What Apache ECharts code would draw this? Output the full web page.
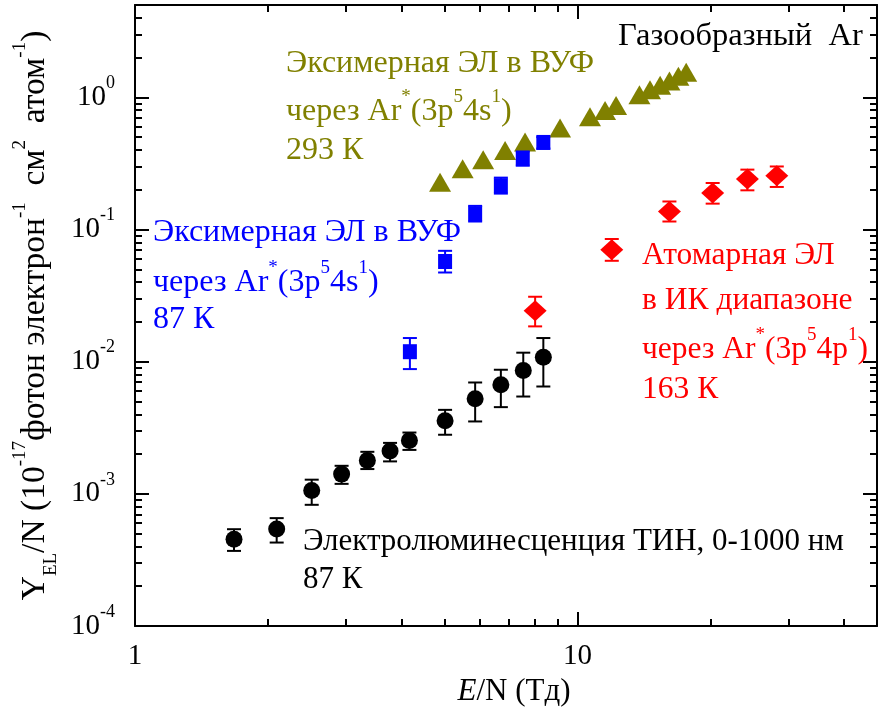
<!DOCTYPE html>
<html><head><meta charset="utf-8">
<script src="https://cdn.jsdelivr.net/npm/echarts@6/dist/echarts.min.js"></script>
<style>html,body{margin:0;padding:0;background:#fff}#c{width:886px;height:715px}</style>
</head><body><div id="c"></div>
<script>
// ---- data ----
const tinX  = [1.674, 2.09, 2.508, 2.93, 3.35, 3.77, 4.17, 5.02, 5.87, 6.71, 7.54, 8.37];
const tinY  = [4.54e-4, 5.43e-4, 1.06e-3, 1.41e-3, 1.79e-3, 2.11e-3, 2.53e-3, 3.57e-3, 5.24e-3, 6.68e-3, 8.58e-3, 1.08e-2];
const tinLo = [3.7e-4, 4.28e-4, 8.26e-4, 1.19e-3, 1.54e-3, 1.76e-3, 2.15e-3, 2.8e-3, 3.53e-3, 4.53e-3, 5.45e-3, 6.49e-3];
const tinHi = [5.4e-4, 6.55e-4, 1.28e-3, 1.63e-3, 2.08e-3, 2.43e-3, 2.91e-3, 4.32e-3, 6.96e-3, 8.69e-3, 1.17e-2, 1.51e-2];

const vuf87X  = [4.18, 5.02, 5.87, 6.71, 7.52, 8.37];
const vuf87Y  = [0.0119, 0.0573, 0.1317, 0.2147, 0.348, 0.456];
const vuf87Lo = [0.00879, 0.0473, 0.115, 0.187, 0.304, 0.41];
const vuf87Hi = [0.0151, 0.069, 0.151, 0.247, 0.39, 0.50];

const vuf293X = [4.89, 5.50, 6.12, 6.86, 7.61, 9.13, 10.67, 11.54, 12.22, 13.8, 14.58, 15.37, 16.13, 16.9, 17.6];
const vuf293Y = [0.228, 0.288, 0.3375, 0.396, 0.46, 0.587, 0.714, 0.796, 0.868, 1.048, 1.144, 1.237, 1.333, 1.442, 1.551];

const irX  = [8.02, 11.95, 16.13, 20.2, 24.2, 28.2];
const irY  = [0.0243, 0.0703, 0.137, 0.189, 0.241, 0.2555];
const irLo = [0.0185, 0.058, 0.115, 0.157, 0.198, 0.21];
const irHi = [0.031, 0.0848, 0.163, 0.225, 0.284, 0.30];

const xMajorTicks = [1, 10];
const xMinorTicks = [2, 3, 4, 5, 6, 7, 8, 9, 20, 30, 40];
const yMajorTicks = [1e-4, 1e-3, 1e-2, 1e-1, 1];
const yMinorTicks = [2e-4,3e-4,4e-4,5e-4,6e-4,7e-4,8e-4,9e-4,
                     2e-3,3e-3,4e-3,5e-3,6e-3,7e-3,8e-3,9e-3,
                     2e-2,3e-2,4e-2,5e-2,6e-2,7e-2,8e-2,9e-2,
                     0.2,0.3,0.4,0.5,0.6,0.7,0.8,0.9,2,3,4];

// ---- styling ----
const FONT = "'Liberation Serif','Times New Roman',serif";
const OLIVE = '#808000', BLUE = '#0000ff', RED = '#ff0000', BLACK = '#000000';
const XMIN = 1, XMAX = 47.5, YMIN = 1e-4, YMAX = 5;

function zip(a, b) { return a.map((v, i) => [v, b[i]]); }
function zip3(a, b, c) { return a.map((v, i) => [v, b[i], c[i]]); }

function xAx(pos, ticks, len, showLine, labels) {
  return {
    type: 'log', logBase: 10, min: XMIN, max: XMAX, position: pos,
    axisLine: { show: showLine, onZero: false, lineStyle: { color: BLACK, width: 2 } },
    axisTick: { show: true, inside: true, length: len, customValues: ticks, lineStyle: { color: BLACK, width: 2 } },
    axisLabel: labels ? { show: true, customValues: ticks, margin: 16, fontFamily: FONT, fontSize: 29, color: BLACK,
                          formatter: v => String(Math.round(v)) } : { show: false },
    splitLine: { show: false }, minorTick: { show: false }
  };
}
function yAx(pos, ticks, len, showLine, labels) {
  return {
    type: 'log', logBase: 10, min: YMIN, max: YMAX, position: pos,
    axisLine: { show: showLine, onZero: false, lineStyle: { color: BLACK, width: 2 } },
    axisTick: { show: true, inside: true, length: len, customValues: ticks, lineStyle: { color: BLACK, width: 2 } },
    axisLabel: labels ? {
      show: true, customValues: ticks, margin: 20,
      formatter: v => {
        const e = Math.round(Math.log10(v));
        return '{b|10}{s|' + e + '}';
      },
      rich: {
        b: { fontFamily: FONT, fontSize: 29, color: BLACK, lineHeight: 46 },
        s: { fontFamily: FONT, fontSize: 18, color: BLACK, lineHeight: 18, verticalAlign: 'top' }
      }
    } : { show: false },
    splitLine: { show: false }, minorTick: { show: false }
  };
}

const xAxes = [xAx('bottom', xMajorTicks, 14, true, true), xAx('bottom', xMinorTicks, 7, false, false),
               xAx('top', xMajorTicks, 14, true, false), xAx('top', xMinorTicks, 7, false, false)];
xAxes[0].name = '{i|E}{n|/N (Тд)}';
xAxes[0].nameLocation = 'middle';
xAxes[0].nameGap = 48;
xAxes[0].nameTextStyle = { padding: [0, 0, 0, 16], rich: {
  i: { fontFamily: FONT, fontSize: 31, fontStyle: 'italic', color: BLACK, lineHeight: 34 },
  n: { fontFamily: FONT, fontSize: 31, color: BLACK, lineHeight: 34 } } };

const yAxes = [yAx('left', yMajorTicks, 14, true, true), yAx('left', yMinorTicks, 7, false, false),
               yAx('right', yMajorTicks, 14, true, false), yAx('right', yMinorTicks, 7, false, false)];
yAxes[0].name = '{n|Y}{sub|EL}{n|/N (10}{s|-17}{n|фотон электрон}{s|-1}{n|  см}{s|2}{n|  атом}{s|-1}{n|)}';
yAxes[0].nameLocation = 'middle';
yAxes[0].nameGap = 74;
yAxes[0].nameTextStyle = { rich: {
  n: { fontFamily: FONT, fontSize: 33.5, color: BLACK, lineHeight: 50 },
  s: { fontFamily: FONT, fontSize: 19, color: BLACK, lineHeight: 30, verticalAlign: 'top' },
  sub: { fontFamily: FONT, fontSize: 19, color: BLACK, lineHeight: 14, verticalAlign: 'bottom' } } };

function errRender(color) {
  return function (params, api) {
    const x = api.value(0);
    const lo = api.coord([x, api.value(1)]);
    const hi = api.coord([x, api.value(2)]);
    const w = 7;
    const st = { stroke: color, lineWidth: 2 };
    return { type: 'group', children: [
      { type: 'line', shape: { x1: lo[0], y1: lo[1], x2: hi[0], y2: hi[1] }, style: st },
      { type: 'line', shape: { x1: lo[0] - w, y1: lo[1], x2: lo[0] + w, y2: lo[1] }, style: st },
      { type: 'line', shape: { x1: hi[0] - w, y1: hi[1], x2: hi[0] + w, y2: hi[1] }, style: st }
    ] };
  };
}
function errSeries(x, lo, hi, color) {
  return { type: 'custom', xAxisIndex: 0, yAxisIndex: 0, renderItem: errRender(color),
           data: zip3(x, lo, hi), encode: { x: 0, y: [1, 2] }, z: 2, silent: true };
}
function scat(x, y, symbol, size, color) {
  return { type: 'scatter', xAxisIndex: 0, yAxisIndex: 0, data: zip(x, y), symbol, symbolSize: size,
           itemStyle: { color, opacity: 1 }, z: 3, silent: true };
}

// annotation lines (rich text); y = desired visual centre of the line
function line(x, y, text, color, size, hasSup) {
  const rich = {
    n: { fontFamily: FONT, fontSize: size, fill: color, lineHeight: 48 },
    s: { fontFamily: FONT, fontSize: 19, fill: color, lineHeight: 19, verticalAlign: 'top' }
  };
  const off = hasSup ? 20.5 : 13 + (size - 31) / 2;
  return { type: 'text', left: x, top: y - off, z: 10, silent: true,
           style: { text, rich, fill: color, font: size + 'px ' + FONT } };
}
const SUP_S = '{n|через Ar}{s|*}{n|(3p}{s|5}{n|4s}{s|1}{n|)}';
const SUP_P = '{n|через Ar}{s|*}{n|(3p}{s|5}{n|4p}{s|1}{n|)}';

const graphics = [
  line(618, 34, '{n|Газообразный  Ar}', BLACK, 32.5, false),
  line(286, 61, '{n|Эксимерная ЭЛ в ВУФ}', OLIVE, 32, false),
  line(286, 108, SUP_S, OLIVE, 32, true),
  line(286, 148, '{n|293 К}', OLIVE, 32, false),
  line(153, 230, '{n|Эксимерная ЭЛ в ВУФ}', BLUE, 32, false),
  line(153, 279, SUP_S, BLUE, 32, true),
  line(153, 317, '{n|87 К}', BLUE, 32, false),
  line(642, 253, '{n|Атомарная ЭЛ}', RED, 31.5, false),
  line(642, 298, '{n|в ИК диапазоне}', RED, 31.5, false),
  line(642, 346, SUP_P, RED, 31.5, true),
  line(642, 387, '{n|163 К}', RED, 31.5, false),
  line(303, 539, '{n|Электролюминесценция ТИН, 0-1000 нм}', BLACK, 31, false),
  line(303, 577, '{n|87 К}', BLACK, 31, false)
];

const chart = echarts.init(document.getElementById('c'), null, { renderer: 'canvas' });
chart.setOption({
  animation: false,
  backgroundColor: '#ffffff',
  grid: { left: 135, right: 9, top: 5, bottom: 89, containLabel: false },
  xAxis: xAxes,
  yAxis: yAxes,
  graphic: graphics,
  series: [
    errSeries(tinX, tinLo, tinHi, BLACK),
    errSeries(vuf87X, vuf87Lo, vuf87Hi, BLUE),
    errSeries(irX, irLo, irHi, RED),
    scat(vuf293X, vuf293Y, 'triangle', [22, 19], OLIVE),
    scat(vuf87X, vuf87Y, 'rect', [14, 15], BLUE),
    scat(irX, irY, 'diamond', [23, 21], RED),
    scat(tinX, tinY, 'circle', 17, BLACK)
  ]
});
</script></body></html>
